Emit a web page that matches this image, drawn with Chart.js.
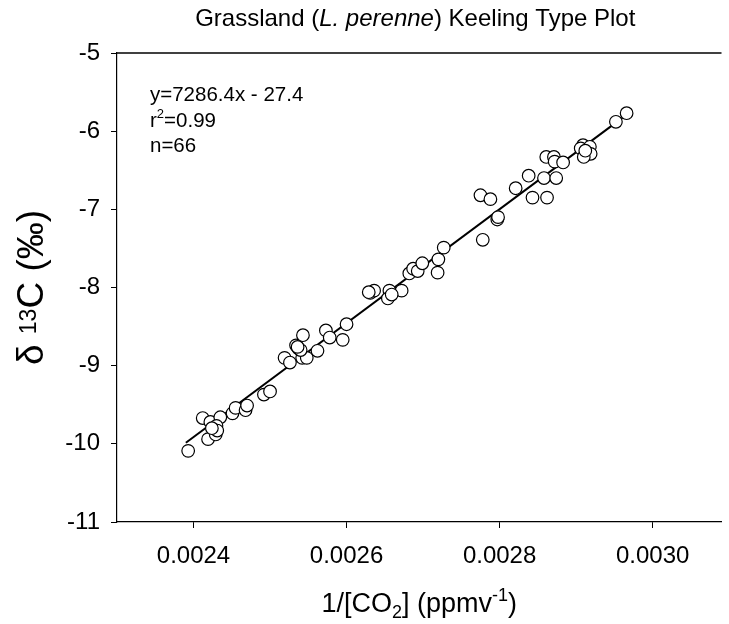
<!DOCTYPE html>
<html>
<head>
<meta charset="utf-8">
<script src="https://cdn.jsdelivr.net/npm/chart.js@4.4.1/dist/chart.umd.min.js"></script>
<style>
  html, body { margin: 0; padding: 0; background: #fff; overflow: hidden; }
  #wrap { width: 729px; height: 624px; position: relative; }
</style>
</head>
<body>
<div id="wrap"><canvas id="keeling" width="729" height="624"></canvas></div>
<script>
// 1/[CO2] and delta 13C for each sample
const invCO2 = [
  0.002393, 0.002412, 0.002422, 0.002435, 0.002430, 0.002419, 0.002429, 0.002431,
  0.002451, 0.002455, 0.002468, 0.002470, 0.002492, 0.002500, 0.002519, 0.002526,
  0.002534, 0.002537, 0.002543, 0.002542, 0.002548, 0.002562, 0.002573, 0.002578,
  0.002595, 0.002600, 0.002631, 0.002636, 0.002656, 0.002654, 0.002672, 0.002682,
  0.002687, 0.002693, 0.002699, 0.002719, 0.002720, 0.002727, 0.002778, 0.002797,
  0.002798, 0.002775, 0.002788, 0.002821, 0.002838, 0.002843, 0.002858, 0.002862,
  0.002861, 0.002871, 0.002872, 0.002874, 0.002883, 0.002909, 0.002906, 0.002918,
  0.002919, 0.002910, 0.002952, 0.002966, 0.002629, 0.002424, 0.002540, 0.002912,
  0.002659, 0.002536
];
const d13C = [
  -10.09, -9.67, -9.72, -9.66, -9.77, -9.94, -9.88, -9.83,
  -9.61, -9.54, -9.57, -9.51, -9.37, -9.33, -8.90, -8.96,
  -8.74, -8.78, -8.61, -8.90, -8.90, -8.81, -8.55, -8.64,
  -8.67, -8.47, -8.07, -8.04, -8.04, -8.14, -8.04, -7.82,
  -7.76, -7.79, -7.69, -7.81, -7.64, -7.49, -7.39, -7.13,
  -7.10, -6.82, -6.87, -6.73, -6.57, -6.85, -6.60, -6.85,
  -6.33, -6.33, -6.39, -6.60, -6.40, -6.18, -6.22, -6.20,
  -6.29, -6.33, -5.88, -5.77, -8.06, -9.80, -8.80, -6.25,
  -8.09, -8.76
];

// fitted line as printed on the plot
const fitSlope = 7286.4;
const fitIntercept = -27.4;
const fitRange = [0.00239, 0.00297];

const xTicks = [0.0024, 0.0026, 0.0028, 0.0030];
const yTicks = [-11, -10, -9, -8, -7, -6, -5];

const FONT = '"Liberation Sans", Arial, sans-serif';

const points = invCO2.map((x, i) => ({ x, y: d13C[i] }));
const fitLine = fitRange.map(x => ({ x, y: fitSlope * x + fitIntercept }));

// draws a run of [text, size, baselineShift, style] pieces starting at x
function drawRun(ctx, pieces, x, y) {
  pieces.forEach(p => {
    ctx.font = `${p[3] || 'normal'} ${p[1]}px ${FONT}`;
    ctx.fillText(p[0], x, y + (p[2] || 0));
    x += ctx.measureText(p[0]).width;
  });
}
function runWidth(ctx, pieces) {
  let w = 0;
  pieces.forEach(p => { ctx.font = `${p[3] || 'normal'} ${p[1]}px ${FONT}`; w += ctx.measureText(p[0]).width; });
  return w;
}

// title, axis titles, stats text and the top frame line
const decorations = {
  id: 'decorations',
  afterDraw(chart) {
    const { ctx, chartArea: a } = chart;
    ctx.save();
    ctx.strokeStyle = '#000';
    ctx.lineWidth = 1.5;
    ctx.beginPath();
    ctx.moveTo(a.left, a.top);
    ctx.lineTo(a.right, a.top);
    ctx.stroke();

    ctx.fillStyle = '#000';
    ctx.textBaseline = 'alphabetic';
    const cx = (a.left + a.right) / 2;

    // title with italic species name
    const title = [
      ['Grassland (', 24],
      ['L. perenne', 24, 0, 'italic'],
      [') Keeling Type Plot', 24]
    ];
    drawRun(ctx, title, cx - 4 - runWidth(ctx, title) / 2, 26);

    // regression stats
    const sx = 150;
    drawRun(ctx, [['y=7286.4x - 27.4', 20.5]], sx, 101);
    drawRun(ctx, [['r', 20.5], ['2', 13, -9], ['=0.99', 20.5]], sx, 127);
    drawRun(ctx, [['n=66', 20.5]], sx, 152);

    // x axis title: 1/[CO2] (ppmv-1)
    const xt = [['1/[CO', 27], ['2', 18, 6], ['] (ppmv', 27], ['-1', 18, -11], [')', 27]];
    drawRun(ctx, xt, cx - runWidth(ctx, xt) / 2, 612);

    // y axis title: delta 13C (permil), rotated
    ctx.translate(43, (a.top + a.bottom) / 2);
    ctx.rotate(-Math.PI / 2);
    const yt = [['\u03B4 ', 37], ['13', 23, -7], ['C (\u2030)', 37]];
    drawRun(ctx, yt, -runWidth(ctx, yt) / 2, 0);
    ctx.restore();
  }
};

new Chart(document.getElementById('keeling'), {
  type: 'scatter',
  data: {
    datasets: [
      {
        type: 'line',
        data: fitLine,
        borderColor: '#000',
        borderWidth: 2,
        pointRadius: 0,
        fill: false,
        order: 2
      },
      {
        data: points,
        backgroundColor: '#fff',
        borderColor: '#000',
        borderWidth: 1.2,
        pointRadius: 6.3,
        order: 1
      }
    ]
  },
  options: {
    responsive: false,
    animation: false,
    layout: { padding: { top: 53, right: 0, left: 0, bottom: 0 } },
    plugins: { legend: { display: false }, tooltip: { enabled: false } },
    scales: {
      x: {
        type: 'linear',
        min: 0.0023,
        max: 0.00309,
        afterBuildTicks: s => { s.ticks = xTicks.map(v => ({ value: v })); },
        afterFit: s => { s.height = 102; },
        border: { color: '#000', width: 1.2 },
        grid: { drawOnChartArea: false, color: '#000', tickLength: 6, tickWidth: 1 },
        ticks: {
          color: '#000',
          padding: 14,
          font: { family: FONT, size: 24 },
          callback: v => v.toFixed(4)
        }
      },
      y: {
        min: -11,
        max: -5,
        afterBuildTicks: s => { s.ticks = yTicks.map(v => ({ value: v })); },
        afterFit: s => { s.width = 117; },
        border: { color: '#000', width: 1.2 },
        grid: { drawOnChartArea: false, color: '#000', tickLength: 6, tickWidth: 1 },
        ticks: {
          color: '#000',
          padding: 11,
          font: { family: FONT, size: 24 },
          callback: v => String(v)
        }
      }
    }
  },
  plugins: [decorations]
});
</script>
</body>
</html>
